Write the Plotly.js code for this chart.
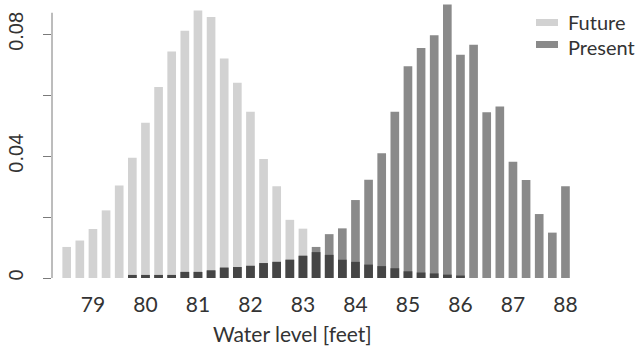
<!DOCTYPE html>
<html>
<head>
<meta charset="utf-8">
<script src="https://cdn.plot.ly/plotly-3.0.1.min.js"></script>
<style>html,body{margin:0;padding:0;background:#fff;}#chart{width:640px;height:347px;}</style>
</head>
<body>
<div id="chart"></div>
<script>
// Bin centres (water level, feet)
const waterLevel = [78.5, 78.75, 79.0, 79.25, 79.5, 79.75, 80.0, 80.25, 80.5, 80.75,
  81.0, 81.25, 81.5, 81.75, 82.0, 82.25, 82.5, 82.75, 83.0, 83.25,
  83.5, 83.75, 84.0, 84.25, 84.5, 84.75, 85.0, 85.25, 85.5, 85.75,
  86.0, 86.25, 86.5, 86.75, 87.0, 87.25, 87.5, 87.75, 88.0];

const future = [0.0102, 0.0123, 0.0161, 0.0222, 0.0304, 0.0395, 0.0510, 0.0627, 0.0744, 0.0812,
  0.0878, 0.0857, 0.0721, 0.0641, 0.0546, 0.0391, 0.0301, 0.0191, 0.0162, 0.0085,
  0.0076, 0.0060, 0.0053, 0.0044, 0.0039, 0.0032, 0.0022, 0.0018, 0.0015, 0.0011,
  0.0008, 0, 0, 0, 0, 0, 0, 0, 0];

const present = [0, 0, 0, 0, 0, 0.0010, 0.0010, 0.0010, 0.0010, 0.0020,
  0.0020, 0.0025, 0.0034, 0.0036, 0.0040, 0.0049, 0.0053, 0.0060, 0.0073, 0.0102,
  0.0144, 0.0163, 0.0256, 0.0323, 0.0410, 0.0546, 0.0695, 0.0755, 0.0797, 0.0898,
  0.0733, 0.0766, 0.0544, 0.0563, 0.0382, 0.0322, 0.0210, 0.0149, 0.0301];

const seriesNames = ['Future', 'Present'];
const xTitle = 'Water level [feet]';
const xTickVals = [79, 80, 81, 82, 83, 84, 85, 86, 87, 88];
const yTickVals = [0, 0.02, 0.04, 0.06, 0.08];
const yTickText = ['0', '', '0.04', '', '0.08'];

const overlap = future.map((f, i) => Math.min(f, present[i]));

const cFuture = '#d2d2d2', cPresent = '#8a8a8a', cOverlap = '#454545';
const barW = 0.165;

const traces = [
  {type: 'bar', x: waterLevel, y: future, name: seriesNames[0], width: barW,
   marker: {color: cFuture}, showlegend: false, hoverinfo: 'x+y+name'},
  {type: 'bar', x: waterLevel, y: present, name: seriesNames[1], width: barW,
   marker: {color: cPresent}, showlegend: false, hoverinfo: 'x+y+name'},
  {type: 'bar', x: waterLevel, y: overlap, name: 'Overlap', width: barW,
   marker: {color: cOverlap}, showlegend: false, hoverinfo: 'skip'}
];

const sansX = 'Lato, "Open Sans", sans-serif';
const sansY = '"Liberation Sans", Arial, sans-serif';
const txt = '#333333';

const layout = {
  width: 640, height: 347,
  margin: {l: 52, r: 60, t: 3, b: 69, pad: 0},
  paper_bgcolor: '#ffffff', plot_bgcolor: '#ffffff',
  barmode: 'overlay',
  showlegend: false,
  xaxis: {
    range: [78.22, 88.277],
    tickvals: xTickVals,
    ticks: '', showline: false, showgrid: false, zeroline: false,
    tickfont: {family: sansX, size: 21, color: txt},
    ticklabelstandoff: 12
  },
  yaxis: {
    range: [0, 0.0903],
    tickvals: yTickVals, ticktext: yTickText,
    ticks: 'outside', ticklen: 8, tickwidth: 1, tickcolor: '#7a7a7a',
    tickangle: -90,
    showline: false, showgrid: false, zeroline: false,
    tickfont: {family: sansY, size: 20, color: txt},
    ticklabelstandoff: 12
  },
  shapes: [
    {type: 'line', xref: 'paper', yref: 'y', x0: 0, x1: 0, y0: 0, y1: 0.0871,
     line: {color: '#7a7a7a', width: 1}},
    {type: 'rect', xref: 'paper', yref: 'paper', x0: 0.9167, x1: 0.9583, y0: 0.9164, y1: 0.9418,
     line: {width: 0}, fillcolor: cFuture},
    {type: 'rect', xref: 'paper', yref: 'paper', x0: 0.9167, x1: 0.9583, y0: 0.8364, y1: 0.8618,
     line: {width: 0}, fillcolor: cPresent}
  ],
  annotations: [
    {xref: 'paper', yref: 'paper', x: 0.9735, y: 0.9309, xanchor: 'left', yanchor: 'middle',
     text: seriesNames[0], showarrow: false, font: {family: sansX, size: 20, color: txt}},
    {xref: 'paper', yref: 'paper', x: 0.9735, y: 0.8400, xanchor: 'left', yanchor: 'middle',
     text: seriesNames[1], showarrow: false, font: {family: sansX, size: 20, color: txt}},
    {xref: 'paper', yref: 'paper', x: 0.4564, y: -0.2, xanchor: 'center', yanchor: 'middle',
     text: xTitle, showarrow: false, font: {family: sansX, size: 21, color: txt}}
  ]
};

Plotly.newPlot('chart', traces, layout, {displayModeBar: false, staticPlot: true});
</script>
</body>
</html>
